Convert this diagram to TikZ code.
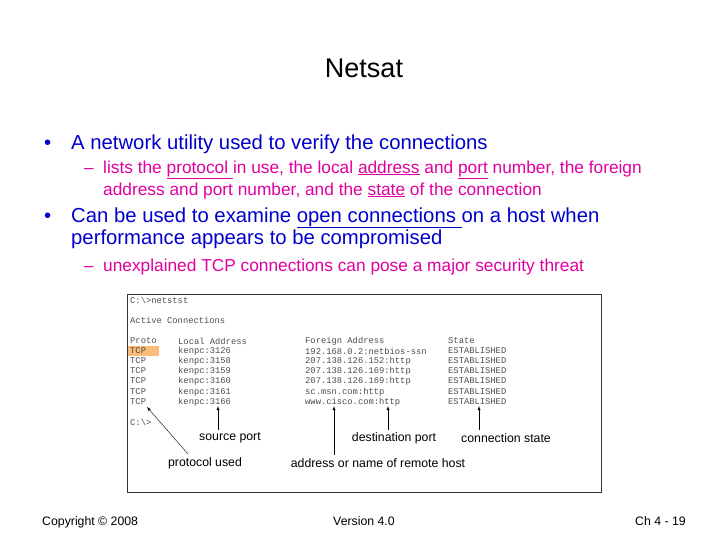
\documentclass[tikz,border=0pt]{standalone}
\usepackage{fontspec}
\setmainfont{Liberation Sans}
\newfontfamily\cour{Liberation Mono}
\definecolor{bl}{RGB}{0,0,204}
\definecolor{mg}{RGB}{224,0,160}
\definecolor{hl}{RGB}{250,190,120}
\begin{document}
\begin{tikzpicture}[x=1pt,y=-1pt,
  lv1/.style={anchor=base west,inner sep=0,text=bl,font=\fontsize{20.3}{24}\selectfont},
  lv2/.style={anchor=base west,inner sep=0,text=mg,font=\fontsize{17.3}{20}\selectfont},
  tt/.style={anchor=west,inner sep=0,text=black!70,font=\cour\fontsize{8.8}{10}\selectfont},
  lab/.style={inner sep=0,font=\fontsize{12.3}{14}\selectfont},
  foot/.style={inner sep=0,anchor=base,font=\fontsize{12.3}{14}\selectfont},
  arr/.style={-latex,thin}]
\useasboundingbox (0,0) rectangle (728,546);
\node[inner sep=0,font=\fontsize{27}{30}\selectfont] (title) at (364,68) {Netsat};
\node[lv1] (b1) at (44,149) {•};
\node[lv1] (t1) at (71,149) {A network utility used to verify the connections};
\node[lv2] (d1) at (84,173) {–};
\node[lv2] (t2) at (103,173) {lists the \underline{protocol }in use, the local \underline{address} and \underline{port} number, the foreign};
\node[lv2] (t3) at (103,195) {address and port number, and the \underline{state} of the connection};
\node[lv1] (b2) at (44,222) {•};
\node[lv1] (t4) at (71,222) {Can be used to examine \underline{open connections }on a host when};
\node[lv1] (t5) at (71,244) {performance appears to be compromised};
\node[lv2] (d2) at (84,271) {–};
\node[lv2] (t6) at (103,271) {unexplained TCP connections can pose a major security threat};
\draw[black!80] (127,294) rectangle (601,492);
\fill[hl] (128,346) rectangle (159,356);
\node[tt] (c1) at (130,300) {C:\textbackslash>netstst};
\node[tt] (c2) at (130,320) {Active Connections};
\node[tt] at (130,341) {Proto}; \node[tt] at (178,341) {Local Address};
\node[tt] at (305,341) {Foreign Address}; \node[tt] at (448,341) {State};
\foreach \y/\p/\f in {351/3126/192.168.0.2:netbios-ssn,361/3158/207.138.126.152:http,371/3159/207.138.126.169:http,381/3160/207.138.126.169:http,392/3161/sc.msn.com:http,402/3166/www.cisco.com:http}{
  \node[tt] at (130,\y) {TCP}; \node[tt] at (178,\y) {kenpc:\p};
  \node[tt] at (305,\y) {\f}; \node[tt] at (448,\y) {ESTABLISHED};}
\node[tt] (c3) at (130,422) {C:\textbackslash>};
\node[lab] (sp) at (230,438) {source port};
\node[lab] (dp) at (394,438) {destination port};
\node[lab] (cs) at (506,438) {connection state};
\node[lab] (pu) at (205,463) {protocol used};
\node[lab] (ad) at (378,463) {address or name of remote host};
\coordinate (tp) at (147,407); \coordinate (tsp) at (218,406);
\coordinate (tad) at (334,406); \coordinate (tdp) at (388,406); \coordinate (tst) at (479,406);
\draw[arr] (188,454) -- (tp);
\draw[arr] (218,430) -- (tsp);
\draw[arr] (334,455) -- (tad);
\draw[arr] (388,430) -- (tdp);
\draw[arr] (479,430) -- (tst);
\node[foot,anchor=base west] (f1) at (42,525) {Copyright © 2008};
\node[foot] (f2) at (364,525) {Version 4.0};
\node[foot,anchor=base east] (f3) at (686,525) {Ch 4 - 19};
\end{tikzpicture}
\end{document}
